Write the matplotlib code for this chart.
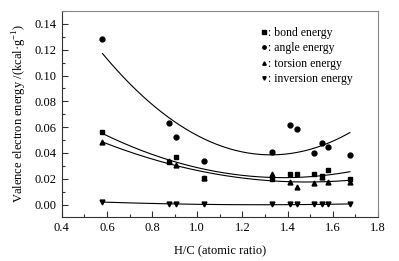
import numpy as np
import matplotlib
matplotlib.use("Agg")
import matplotlib.pyplot as plt
from matplotlib.ticker import MultipleLocator

plt.rcParams['font.family'] = 'serif'
plt.rcParams['font.serif'] = ['Liberation Serif', 'DejaVu Serif']
plt.rcParams['mathtext.fontset'] = 'custom'
plt.rcParams['mathtext.rm'] = 'Liberation Serif'

hc = [0.58, 0.875, 0.905, 1.03, 1.33, 1.41, 1.443, 1.517, 1.553, 1.58, 1.676]
bond = [0.056, 0.0333, 0.037, 0.0205, 0.0197, 0.0235, 0.0238, 0.0235, 0.0222, 0.0266, 0.0199]
angle = [0.128, 0.0636, 0.0527, 0.0339, 0.041, 0.0616, 0.0587, 0.0396, 0.0476, 0.045, 0.0385]
torsion = [0.0486, 0.0335, 0.0308, 0.0205, 0.0235, 0.0176, 0.014, 0.0166, 0.0215, 0.0174, 0.0175]
inversion = [0.0023, 0.0002, 0.0002, 0.0002, 0.0002, 0.0002, 0.0002, 0.0002, 0.0002, 0.0002, 0.0002]

series = [
    (bond, 's', ': bond energy'),
    (angle, 'o', ': angle energy'),
    (torsion, '^', ': torsion energy'),
    (inversion, 'v', ': inversion energy'),
]

fig = plt.figure(figsize=(3.99, 2.61), dpi=100)
ax = fig.add_axes([0.155, 0.169, 0.792, 0.789])

# quadratic fits through each series
xs = np.linspace(min(hc), max(hc), 200)
for vals, m, lab in series:
    ax.plot(hc, vals, m, color='black', ms=3.5, ls='none', label=lab)
    p = np.polyfit(hc, vals, 2)
    ax.plot(xs, np.polyval(p, xs), color='black', lw=0.8)

ax.set_xlim(0.4, 1.8)
ax.set_ylim(-0.0095, 0.15)
ax.xaxis.set_major_locator(MultipleLocator(0.2))
ax.xaxis.set_minor_locator(MultipleLocator(0.1))
ax.yaxis.set_major_locator(MultipleLocator(0.02))
ax.yaxis.set_minor_locator(MultipleLocator(0.01))
ax.xaxis.set_major_formatter(plt.FormatStrFormatter('%.1f'))
ax.yaxis.set_major_formatter(plt.FormatStrFormatter('%.2f'))
ax.tick_params(which='both', direction='in', labelsize=9, top=False, right=False, color='#333333')
ax.tick_params(which='major', length=4, width=0.8)
ax.tick_params(which='minor', length=2, width=0.8)
for s in ['left', 'bottom']:
    ax.spines[s].set_color('#333333')
for s in ['top', 'right']:
    ax.spines[s].set_color('#888888')
for s in ax.spines.values():
    s.set_linewidth(0.8)

ax.set_xlabel('H/C (atomic ratio)', fontsize=9, labelpad=8)
ax.set_ylabel('Valence electron energy /(kcal·g$^{-1}$)', fontsize=9, labelpad=4)

ax.legend(loc='upper right', bbox_to_anchor=(0.955, 0.975), frameon=False, fontsize=8.5,
          handlelength=0.6, handletextpad=0.1, labelspacing=0.3, markerscale=0.7)

fig.savefig('out.png', dpi=100)
